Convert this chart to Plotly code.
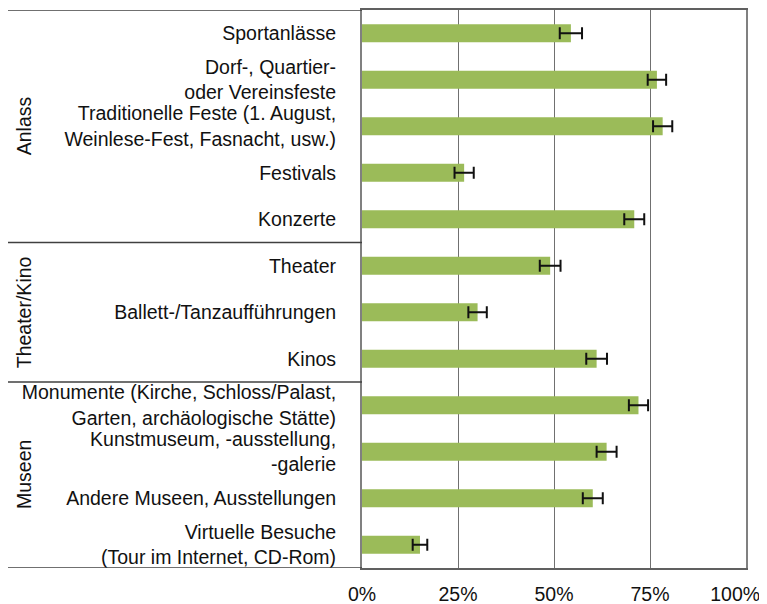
import plotly.graph_objects as go

categories = [
    "Sportanlässe",
    "Dorf-, Quartier-<br>oder Vereinsfeste",
    "Traditionelle Feste (1. August,<br>Weinlese-Fest, Fasnacht, usw.)",
    "Festivals",
    "Konzerte",
    "Theater",
    "Ballett-/Tanzaufführungen",
    "Kinos",
    "Monumente (Kirche, Schloss/Palast,<br>Garten, archäologische Stätte)",
    "Kunstmuseum, -ausstellung,<br>-galerie",
    "Andere Museen, Ausstellungen",
    "Virtuelle Besuche<br>(Tour im Internet, CD-Rom)",
]
values = [0.544, 0.768, 0.783, 0.266, 0.709, 0.490, 0.301, 0.611, 0.720, 0.637, 0.601, 0.151]
errors = [0.029, 0.024, 0.025, 0.025, 0.026, 0.027, 0.024, 0.027, 0.025, 0.026, 0.026, 0.019]

groups = ["Anlass", "Theater/Kino", "Museen"]
group_sizes = [5, 3, 4]

x_ticks = [0, 0.25, 0.5, 0.75, 1.0]
# last label nudged inward (as in the original) so it stays inside the window
x_tick_labels = ["0%", "25%", "50%", "75%", "100%\u00a0\u00a0\u00a0\u00a0"]

font = "Liberation Sans, Arial, sans-serif"

fig = go.Figure()
fig.add_trace(go.Bar(
    y=list(range(len(categories))),
    x=values,
    orientation="h",
    width=0.39,
    marker=dict(color="#9bbb59", line=dict(width=0)),
    error_x=dict(type="data", array=errors, color="#111111", thickness=2, width=6),
))

# frame lines extending left over the label column, and group separators
left = -354 / 384
bounds = [-0.5]
for s in group_sizes:
    bounds.append(bounds[-1] + s)
for b in bounds:
    fig.add_shape(type="line", xref="paper", yref="y", x0=left, x1=0, y0=b, y1=b,
                  line=dict(color="#404040", width=1.5))

# group labels
start = -0.5
for g, s in zip(groups, group_sizes):
    fig.add_annotation(text=g, xref="paper", yref="y", x=-338 / 384, y=start + s / 2,
                       textangle=-90, showarrow=False, xanchor="center", yanchor="middle",
                       font=dict(family=font, size=19.5, color="#111111"))
    start += s

# page body has an 8px margin, so the figure is sized to fit the window
fig.update_layout(
    width=759, height=596,
    margin=dict(l=354, r=21, t=2, b=36, autoexpand=False),
    plot_bgcolor="white", paper_bgcolor="white",
    showlegend=False,
    font=dict(family=font, size=19.5, color="#111111"),
)
fig.update_xaxes(
    range=[0, 1], tickvals=x_ticks, ticktext=x_tick_labels,
    showgrid=True, gridcolor="#707070", gridwidth=1.3,
    showline=True, linecolor="#606060", linewidth=1.5, mirror=True,
    zeroline=False, ticks="", ticklabelstandoff=8,
    automargin=False, ticklabeloverflow="allow",
)
fig.update_yaxes(
    range=[len(categories) - 0.5, -0.5],
    tickvals=list(range(len(categories))), ticktext=categories,
    showgrid=False, showline=True, linecolor="#808080", linewidth=2, mirror=True,
    zeroline=False, ticks="", ticklabelstandoff=20,
    automargin=False, ticklabeloverflow="allow",
)

fig.write_html("out.html")
